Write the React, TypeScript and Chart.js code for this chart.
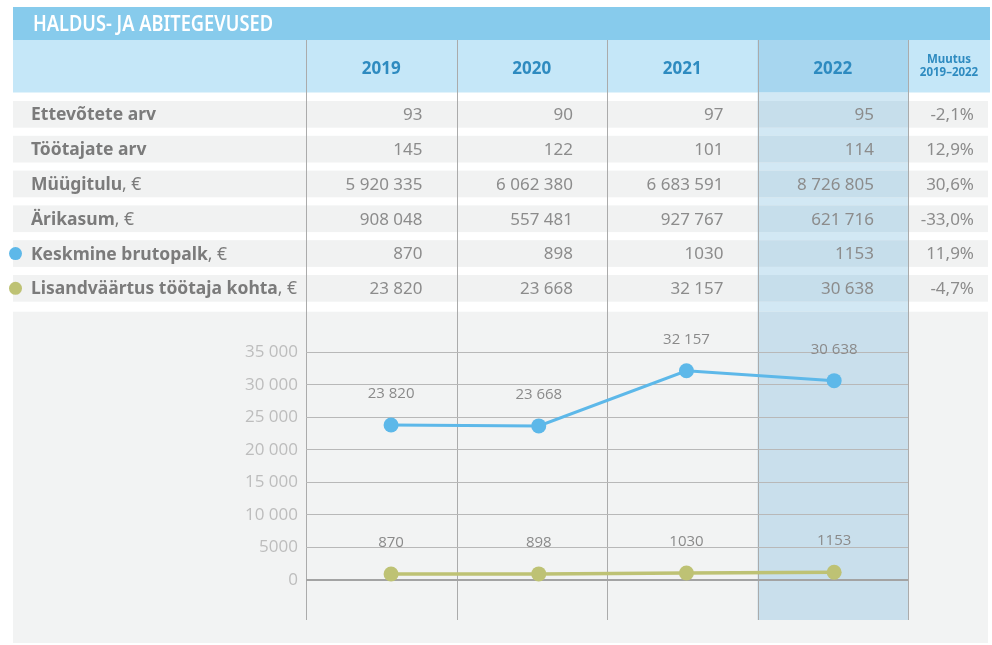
import React, { useEffect, useRef } from "react";
import { Chart, registerables } from "chart.js";
Chart.register(...registerables);

const TITLE = "HALDUS- JA ABITEGEVUSED";
const YEARS = ["2019", "2020", "2021", "2022"];
const CHANGE_HEADER = ["Muutus", "2019–2022"];
const ROW_LABELS = [
  "Ettevõtete arv",
  "Töötajate arv",
  "Müügitulu",
  "Ärikasum",
  "Keskmine brutopalk",
  "Lisandväärtus töötaja kohta",
];
const ROW_UNITS = ["", "", ", €", ", €", ", €", ", €"];
const ETTEVOTETE = [93, 90, 97, 95];
const TOOTAJATE = [145, 122, 101, 114];
const MUUGITULU = [5920335, 6062380, 6683591, 8726805];
const ARIKASUM = [908048, 557481, 927767, 621716];
const BRUTOPALK = [870, 898, 1030, 1153];
const LISANDVAARTUS = [23820, 23668, 32157, 30638];
const CHANGE = [-2.1, 12.9, 30.6, -33.0, 11.9, -4.7];
const Y_TICKS = [0, 5000, 10000, 15000, 20000, 25000, 30000, 35000];

const W = 992;
const H = 645;
const BLUE = "#5DB8E9";
const GREEN = "#BEC274";
const FONT = "'Noto Sans', 'Open Sans', sans-serif";
const CFONT = "'Open Sans', 'Noto Sans', sans-serif";

const fmt = (v: number) => {
  const s = String(Math.round(v));
  if (Math.abs(v) < 10000) return s;
  return s.replace(/\B(?=(\d{3})+(?!\d))/g, " ");
};
const fmtPct = (v: number) => v.toFixed(1).replace(".", ",") + "%";

const TABLE_ROWS = [ETTEVOTETE, TOOTAJATE, MUUGITULU, ARIKASUM, BRUTOPALK, LISANDVAARTUS];
const ROW_DOTS: (string | null)[] = [null, null, null, null, BLUE, GREEN];

const tablePlugin = {
  id: "tablePlugin",
  beforeDraw(chart: any) {
    const ctx: CanvasRenderingContext2D = chart.ctx;
    const ca = chart.chartArea;
    const cw = (ca.right - ca.left) / YEARS.length;
    const b: number[] = [];
    for (let i = 0; i <= YEARS.length; i++) b.push(ca.left + i * cw);
    const L = 13;
    const R = 990;
    ctx.save();
    ctx.fillStyle = "#FFFFFF";
    ctx.fillRect(0, 0, W, H);

    // title bar
    ctx.fillStyle = "#87CBEC";
    ctx.fillRect(L, 7, R - L, 33);
    ctx.font = `600 22px ${FONT}`;
    ctx.fillStyle = "#FFFFFF";
    ctx.textBaseline = "middle";
    ctx.textAlign = "left";
    const tw = ctx.measureText(TITLE).width;
    ctx.save();
    ctx.translate(33, 24.5);
    ctx.scale(240 / tw, 1);
    ctx.fillText(TITLE, 0, 0);
    ctx.restore();

    // header row
    ctx.fillStyle = "#C5E7F8";
    ctx.fillRect(L, 40, R - L, 52.5);
    ctx.fillStyle = "#A7D6EF";
    ctx.fillRect(b[3], 40, b[4] - b[3], 52.5);
    ctx.fillStyle = "#2E8BC0";
    ctx.textAlign = "center";
    ctx.font = `bold 17px ${FONT}`;
    YEARS.forEach((y, i) => ctx.fillText(y, (b[i] + b[i + 1]) / 2, 69));
    ctx.font = `bold 11.5px ${FONT}`;
    ctx.fillText(CHANGE_HEADER[0], (b[4] + R) / 2, 60);
    ctx.fillText(CHANGE_HEADER[1], (b[4] + R) / 2, 73);

    // highlight column (gaps)
    ctx.fillStyle = "#D2E8F4";
    ctx.fillRect(b[3], 92.5, b[4] - b[3], ca.bottom - 92.5);

    // rows
    const rowTop = (r: number) => 101 + r * 34.8;
    const rowH = 26.7;
    for (let r = 0; r < ROW_LABELS.length; r++) {
      const t = rowTop(r);
      ctx.fillStyle = "#F1F2F2";
      ctx.fillRect(L, t, 988 - L, rowH);
      ctx.fillStyle = "#C6DEEB";
      ctx.fillRect(b[3], t, b[4] - b[3], rowH);
    }
    // chart background
    const cTop = 311.7;
    ctx.fillStyle = "#F2F3F3";
    ctx.fillRect(L, cTop, 988 - L, 643 - cTop);
    ctx.fillStyle = "#C9DFEC";
    ctx.fillRect(b[3], cTop, b[4] - b[3], ca.bottom - cTop);

    // row texts
    for (let r = 0; r < ROW_LABELS.length; r++) {
      const cy = rowTop(r) + rowH / 2 + 1;
      ctx.textAlign = "left";
      ctx.fillStyle = "#7B7B7B";
      ctx.font = `bold 17.5px ${FONT}`;
      ctx.fillText(ROW_LABELS[r], 31, cy);
      const lw = ctx.measureText(ROW_LABELS[r]).width;
      if (ROW_UNITS[r]) {
        ctx.font = `17.5px ${FONT}`;
        ctx.fillText(ROW_UNITS[r], 31 + lw, cy);
      }
      const dot = ROW_DOTS[r];
      if (dot) {
        ctx.fillStyle = dot;
        ctx.beginPath();
        ctx.arc(15.5, cy - 1, 6.5, 0, Math.PI * 2);
        ctx.fill();
      }
      ctx.textAlign = "right";
      ctx.fillStyle = "#8C8C8C";
      ctx.font = `17px ${FONT}`;
      TABLE_ROWS[r].forEach((v, i) => ctx.fillText(fmt(v), b[i + 1] - 34, cy));
      ctx.fillText(fmtPct(CHANGE[r]), 974, cy);
    }

    // column lines
    ctx.strokeStyle = "#ABABAB";
    ctx.lineWidth = 1;
    for (let i = 0; i < b.length; i++) {
      const x = Math.round(b[i]) + 0.5;
      ctx.beginPath();
      ctx.moveTo(x, 40);
      ctx.lineTo(x, ca.bottom);
      ctx.stroke();
    }
    ctx.restore();
  },
  afterDatasetsDraw(chart: any) {
    const ctx: CanvasRenderingContext2D = chart.ctx;
    ctx.save();
    ctx.font = `15px ${CFONT}`;
    ctx.fillStyle = "#8A8A8A";
    ctx.textAlign = "center";
    ctx.textBaseline = "middle";
    chart.data.datasets.forEach((ds: any, di: number) => {
      const meta = chart.getDatasetMeta(di);
      meta.data.forEach((pt: any, i: number) => {
        ctx.fillText(fmt(ds.data[i]), pt.x, pt.y - 31);
      });
    });
    ctx.restore();
  },
};

export default function App() {
  const ref = useRef<HTMLCanvasElement>(null);
  useEffect(() => {
    document.body.style.margin = "0";
    const chart = new Chart(ref.current!, {
      type: "line",
      data: {
        labels: YEARS,
        datasets: [
          {
            label: "Lisandväärtus töötaja kohta",
            data: LISANDVAARTUS,
            borderColor: BLUE,
            backgroundColor: BLUE,
            pointBackgroundColor: BLUE,
            borderWidth: 3,
            pointRadius: 7.5,
            pointBorderWidth: 0,
            tension: 0,
          },
          {
            label: "Keskmine brutopalk",
            data: BRUTOPALK,
            borderColor: GREEN,
            backgroundColor: GREEN,
            pointBackgroundColor: GREEN,
            borderWidth: 3.5,
            pointRadius: 7.5,
            pointBorderWidth: 0,
            tension: 0,
          },
        ],
      },
      options: {
        responsive: false,
        animation: false,
        devicePixelRatio: 1,
        layout: { padding: { left: 0, right: W - 908, top: 312, bottom: H - 620 } },
        plugins: { legend: { display: false }, tooltip: { enabled: false } },
        scales: {
          x: { type: "linear", display: false, min: 2018.424, max: 2022.5 },
          y: {
            min: -6200,
            max: 41200,
            afterBuildTicks: (s: any) => {
              s.ticks = Y_TICKS.map((v) => ({ value: v }));
            },
            afterFit: (s: any) => {
              s.width = 306;
            },
            border: { display: false },
            grid: {
              drawTicks: false,
              color: (c: any) => (c.tick && c.tick.value === 0 ? "#A3A3A3" : "#B8B8B8"),
              lineWidth: (c: any) => (c.tick && c.tick.value === 0 ? 2 : 1),
            },
            ticks: {
              padding: 8,
              color: "#BDBDBD",
              font: { family: CFONT, size: 17 },
              callback: (v: any) => fmt(Number(v)),
            },
          },
        },
      },
      plugins: [tablePlugin],
    } as any);
    return () => chart.destroy();
  }, []);
  return (
    <canvas
      ref={ref}
      width={W}
      height={H}
      style={{ display: "block", width: W, height: H }}
    />
  );
}
